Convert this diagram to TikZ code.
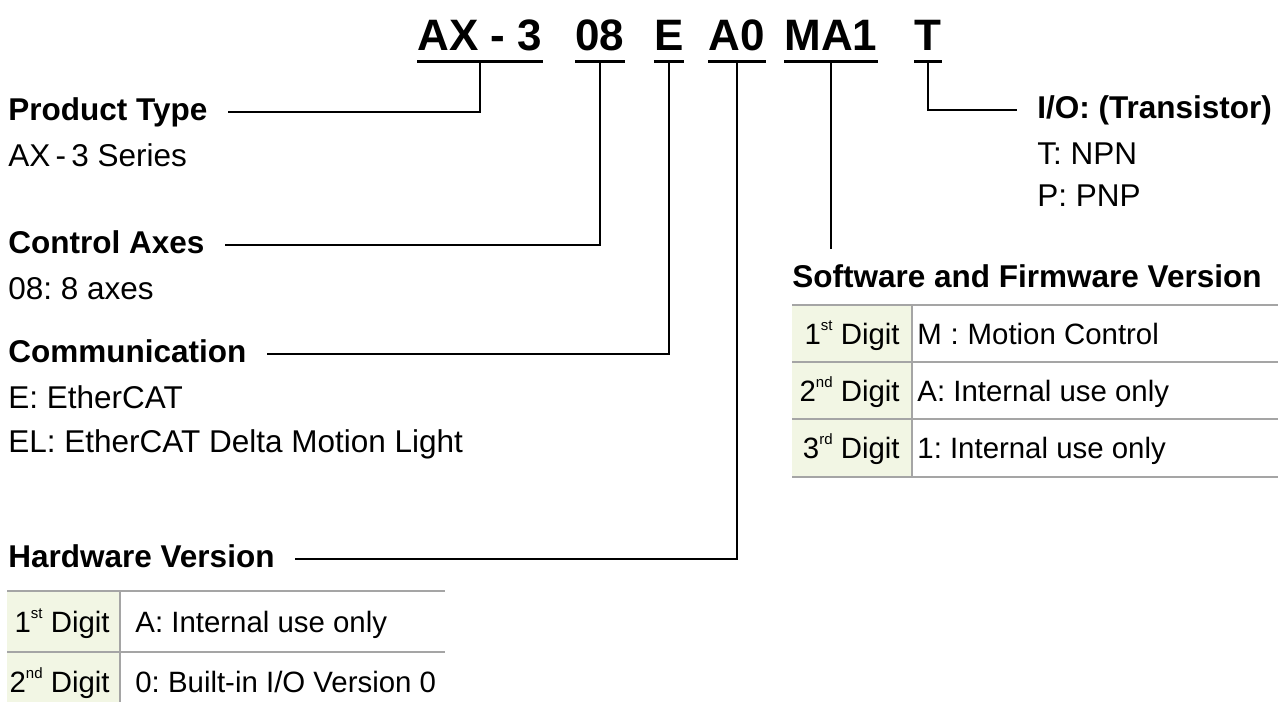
\documentclass[tikz,border=0pt]{standalone}
\usepackage{fontspec}
\setmainfont{Liberation Sans}
\usetikzlibrary{positioning}
\definecolor{cellgreen}{RGB}{242,246,228}
\definecolor{rulegray}{RGB}{165,165,165}
\newcommand{\ordsup}[1]{\raisebox{0.9ex}{\fontsize{7.5pt}{7.5pt}\selectfont #1}}
\frenchspacing

\begin{document}
\begin{tikzpicture}[x=0.5pt,y=-0.5pt,
  code/.style={font=\fontsize{22pt}{26pt}\selectfont\bfseries,inner sep=0pt,text depth=5.5pt,anchor=base},
  head/.style={font=\fontsize{15.75pt}{19pt}\selectfont\bfseries,inner sep=0pt,text height=11.8pt,text depth=3.9pt,anchor=base west},
  txt/.style={font=\fontsize{15.75pt}{19pt}\selectfont,inner sep=0pt,anchor=base west},
  cell/.style={font=\fontsize{14.7pt}{18pt}\selectfont,inner sep=0pt,text height=10.5pt,text depth=0pt},
  conn/.style={line width=1pt},
  uline/.style={line width=1.5pt},
  rule/.style={rulegray,line width=1pt}]
\useasboundingbox (0,0) rectangle (1286,702);

% model code
\node[code] (ax) at (480,50) {AX - 3};
\node[code] (n08) at (600,50) {08};
\node[code] (e) at (669,50) {E};
\node[code] (a0) at (737,50) {A0};
\node[code] (ma) at (831,50) {MA1};
\node[code] (t) at (928,50) {T};
\foreach \p in {ax,n08,e,a0,ma,t}
  \draw[uline] (\p.south west) -- (\p.south east);

% left column
\node[head] (prod) at (8,120) {Product Type};
\node[txt] (prodA) at (8,166) {AX\,-\,3 Series};
\node[head] (axes) at (8,253) {Control Axes};
\node[txt] (axesA) at (8,299) {08: 8 axes};
\node[head] (comm) at (8,362) {Communication};
\node[txt] (commA) at (8,408) {E: EtherCAT};
\node[txt] (commB) at (8,452) {EL: EtherCAT Delta Motion Light};
\node[head] (hw) at (8,567) {Hardware Version};

% right column
\node[head] (io) at (1037,118) {I/O: (Transistor)};
\node[txt] (ioA) at (1037,164) {T: NPN};
\node[txt] (ioB) at (1037,206) {P: PNP};
\node[head] (sw) at (792,287) {Software and Firmware Version};

% connectors
\draw[conn] (ax.south) |- ([xshift=10pt]prod.east);
\draw[conn] (n08.south) |- ([xshift=10pt]axes.east);
\draw[conn] (e.south) |- ([xshift=10pt]comm.east);
\draw[conn] (a0.south) |- ([xshift=10pt]hw.east);
\draw[conn] (ma.south) -- ([yshift=7pt]ma.south |- sw.north);
\draw[conn] (t.south) |- ([xshift=-10pt]io.west);

% software table
\fill[cellgreen] (792,305) rectangle (912,477);
\draw[rule] (912,305) -- (912,477);
\foreach \y in {305,362,419,477}
  \draw[rule] (792,\y) -- (1278,\y);
\node[cell,anchor=east] (sw1) at (900,333.5) {1\ordsup{st} Digit};
\node[cell,anchor=east] (sw2) at (900,390.5) {2\ordsup{nd} Digit};
\node[cell,anchor=east] (sw3) at (900,448) {3\ordsup{rd} Digit};
\node[cell,anchor=west] (swv1) at (917,333.5) {M\hspace{0.3em}:\hspace{0.3em}Motion Control};
\node[cell,anchor=west] (swv2) at (917,390.5) {A: Internal use only};
\node[cell,anchor=west] (swv3) at (917,448) {1: Internal use only};

% hardware table
\fill[cellgreen] (7,591) rectangle (120,702);
\draw[rule] (120,591) -- (120,702);
\foreach \y in {591,652}
  \draw[rule] (7,\y) -- (445,\y);
\node[cell,anchor=east] (hw1) at (110,621.5) {1\ordsup{st} Digit};
\node[cell,anchor=east] (hw2) at (110,682) {2\ordsup{nd} Digit};
\node[cell,anchor=west] (hwv1) at (135,621.5) {A: Internal use only};
\node[cell,anchor=west] (hwv2) at (135,682) {0: Built-in I/O Version 0};
\end{tikzpicture}
\end{document}
